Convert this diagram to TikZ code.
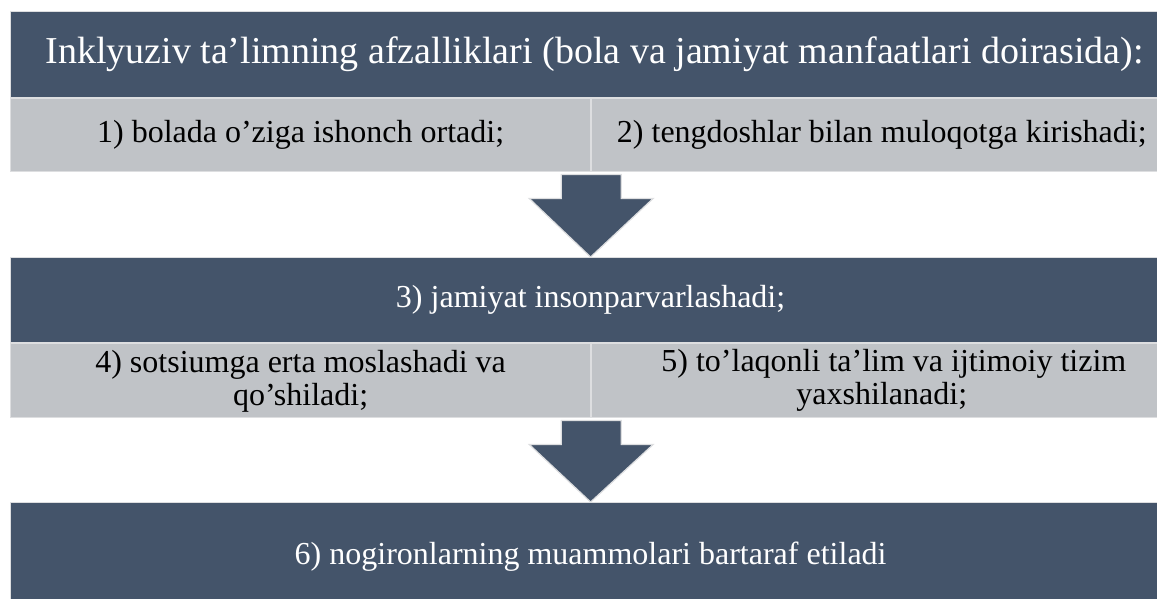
\documentclass[tikz,border=0pt]{standalone}
\usepackage{fontspec}
\setmainfont{Liberation Serif}
\usetikzlibrary{positioning,calc}
\definecolor{slate}{HTML}{44546A}
\definecolor{mist}{HTML}{C0C3C7}
\definecolor{rim}{HTML}{DDDEE0}

\begin{document}
\begin{tikzpicture}[
    x=1pt, y=-1pt,
    darkbox/.style={rectangle,fill=slate,draw=rim,line width=1.2pt,inner sep=0pt,
        text=white,minimum width=1160pt,font=\fontsize{32}{34}\selectfont},
    cell/.style={rectangle,fill=mist,draw=rim,line width=1.2pt,inner sep=0pt,
        text=black,minimum width=580pt,align=center,font=\fontsize{32}{33}\selectfont},
    blockarrow/.style={fill=slate,draw=rim,line width=1.2pt,line join=miter}
]

\useasboundingbox (0,0) rectangle (1157,598);
\clip (0,0) rectangle (1157,598);

% Heading and first two points
\node[darkbox,minimum height=86pt,anchor=north west,font=\fontsize{38}{44}\selectfont]
  (head) at (10,11) {\hspace*{8pt}Inklyuziv ta’limning afzalliklari (bola va jamiyat manfaatlari doirasida):};
\node[cell,minimum height=73pt,below right=0pt and 0pt of head.south west] (p1)
  {1) bolada o’ziga ishonch ortadi;};
\node[cell,minimum height=73pt,right=0pt of p1] (p2)
  {2) tengdoshlar bilan muloqotga kirishadi;};

% Society level
\node[darkbox,minimum height=85pt,anchor=north west] (mid) at (10,257)
  {3) jamiyat insonparvarlashadi;};
\node[cell,minimum height=74pt,below right=0pt and 0pt of mid.south west] (p4)
  {4) sotsiumga erta moslashadi va\\qo’shiladi;};
\node[cell,minimum height=74pt,right=0pt of p4] (p5)
  {\hspace*{24pt}5) to’laqonli ta’lim va ijtimoiy tizim\\yaxshilanadi;};

% Result
\node[darkbox,minimum height=108pt,anchor=north west] (foot) at (10,502)
  {6) nogironlarning muammolari bartaraf etiladi};

% Block arrows between the levels
\foreach \s/\t in {p1/mid, p4/foot} {
  \coordinate (top) at (\s.south east);
  \draw[blockarrow] ($(top)+(-30,2)$) -- ($(top)+(30,2)$) -- ($(top)+(30,26)$)
    -- ($(top)+(62,26)$) -- (\t.north) -- ($(top)+(-62,26)$) -- ($(top)+(-30,26)$) -- cycle;
}

\end{tikzpicture}
\end{document}
